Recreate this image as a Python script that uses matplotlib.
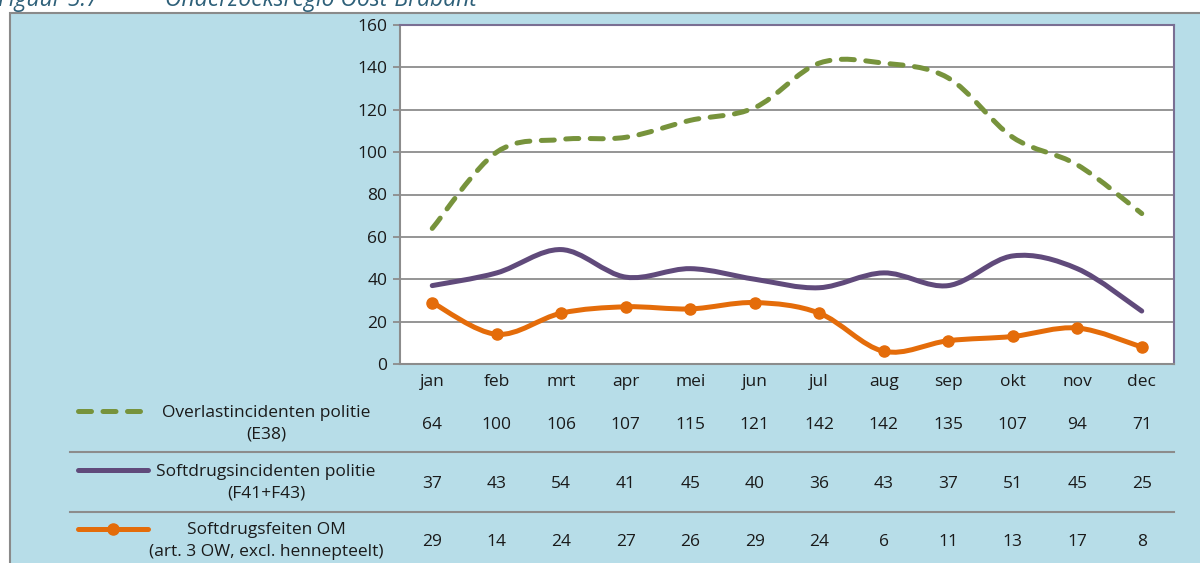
import numpy as np
import matplotlib.pyplot as plt
import matplotlib.transforms as mtransforms
from matplotlib.path import Path
from matplotlib.patches import PathPatch, Rectangle
from matplotlib.lines import Line2D

plt.rcParams['font.family'] = ['Open Sans', 'DejaVu Sans']

months = ['jan', 'feb', 'mrt', 'apr', 'mei', 'jun', 'jul', 'aug', 'sep', 'okt', 'nov', 'dec']
overlast = [64, 100, 106, 107, 115, 121, 142, 142, 135, 107, 94, 71]
softdrugs_politie = [37, 43, 54, 41, 45, 40, 36, 43, 37, 51, 45, 25]
softdrugs_om = [29, 14, 24, 27, 26, 29, 24, 6, 11, 13, 17, 8]

labels = ['Overlastincidenten politie\n(E38)',
          'Softdrugsincidenten politie\n(F41+F43)',
          'Softdrugsfeiten OM\n(art. 3 OW, excl. hennepteelt)']

green = '#77933C'
purple = '#604A7B'
orange = '#E46C0A'
bg = '#B7DDE8'
fs = 12.5


def smooth_path(x, y):
    # excel-achtige gladde lijn: bezier door de punten
    p = np.column_stack([x, y]).astype(float)
    n = len(p)
    verts = [p[0]]
    codes = [Path.MOVETO]
    for i in range(n - 1):
        p0 = p[i - 1] if i > 0 else p[i]
        p3 = p[i + 2] if i + 2 < n else p[i + 1]
        c1 = p[i] + (p[i + 1] - p0) / 6
        c2 = p[i + 1] - (p3 - p[i]) / 6
        verts += [c1, c2, p[i + 1]]
        codes += [Path.CURVE4] * 3
    return Path(verts, codes)


fig = plt.figure(figsize=(12, 5.63), dpi=100)
fig.patch.set_facecolor('white')

# achtergrond kader
fig.patches.append(Rectangle((10 / 1200, -0.01), 1.0, 1 - 13 / 563 + 0.01,
                             transform=fig.transFigure, facecolor=bg,
                             edgecolor='#8A8A8A', linewidth=1.5, zorder=-5))
fig.text(-0.002, 1 - 6 / 563, 'Figuur 5.7', fontsize=16.5, style='italic',
         color='#2E6079', va='baseline', ha='left')
fig.text(165 / 1200, 1 - 6 / 563, 'Onderzoeksregio Oost-Brabant', fontsize=16.5,
         style='italic', color='#2E6079', va='baseline', ha='left')

ax = fig.add_axes([400 / 1200, 1 - 364 / 563, 774 / 1200, 339 / 563])
ax.set_facecolor('white')
x = np.arange(len(months))
ax.set_xlim(-0.5, len(months) - 0.5)
ax.set_ylim(0, 160)
ax.set_yticks(range(0, 161, 20))
ax.grid(axis='y', color='#8C8C8C', linewidth=1.3)
ax.set_axisbelow(True)
ax.set_xticks(x)
ax.set_xticklabels(months, fontsize=fs, color='#1a1a1a')
ax.tick_params(axis='x', length=0, pad=7)
ax.tick_params(axis='y', length=5, width=1.3, color='#8C8C8C', labelsize=fs,
               labelcolor='#1a1a1a', pad=4)
for s in ['left', 'bottom']:
    ax.spines[s].set_color('#8C8C8C')
    ax.spines[s].set_linewidth(1.5)
for s in ['top', 'right']:
    ax.spines[s].set_color('#7A6F93')
    ax.spines[s].set_linewidth(1.5)

ax.add_patch(PathPatch(smooth_path(x, overlast), facecolor='none', edgecolor=green,
                       linewidth=3.6, linestyle=(0, (2.6, 2.3)), capstyle='round'))
ax.add_patch(PathPatch(smooth_path(x, softdrugs_politie), facecolor='none',
                       edgecolor=purple, linewidth=3.6, capstyle='round'))
ax.add_patch(PathPatch(smooth_path(x, softdrugs_om), facecolor='none',
                       edgecolor=orange, linewidth=3.6, capstyle='round'))
ax.plot(x, softdrugs_om, 'o', color=orange, markersize=8, linestyle='none')

# tabel onder de grafiek
trans = mtransforms.blended_transform_factory(ax.transData, fig.transFigure)
series = [overlast, softdrugs_politie, softdrugs_om]
row_y = [425, 484, 542]
key_y = [411, 470, 529]
for r, vals in enumerate(series):
    for i, v in enumerate(vals):
        fig.text(x[i], 1 - row_y[r] / 563, str(v), transform=trans, fontsize=fs,
                 ha='center', va='center', color='#1a1a1a')
    fig.text(266 / 1200, 1 - (row_y[r] - 1) / 563, labels[r], fontsize=fs,
             ha='center', va='center', color='#1a1a1a', linespacing=1.45)

kx = [78 / 1200, 148 / 1200]
fig.lines.append(Line2D(kx, [1 - key_y[0] / 563] * 2, transform=fig.transFigure,
                        color=green, linewidth=3.6, linestyle=(0, (2.6, 2.3)),
                        dash_capstyle='round'))
fig.lines.append(Line2D(kx, [1 - key_y[1] / 563] * 2, transform=fig.transFigure,
                        color=purple, linewidth=3.6, solid_capstyle='round'))
fig.lines.append(Line2D(kx, [1 - key_y[2] / 563] * 2, transform=fig.transFigure,
                        color=orange, linewidth=3.6, solid_capstyle='round'))
fig.lines.append(Line2D([113 / 1200], [1 - key_y[2] / 563], transform=fig.transFigure,
                        color=orange, marker='o', markersize=8, linestyle='none'))

for yy in [452, 512]:
    fig.lines.append(Line2D([70 / 1200, 1174 / 1200], [1 - yy / 563] * 2,
                            transform=fig.transFigure, color='#8C8C8C', linewidth=1.5))

fig.savefig('out.png', dpi=100, facecolor=fig.get_facecolor())
